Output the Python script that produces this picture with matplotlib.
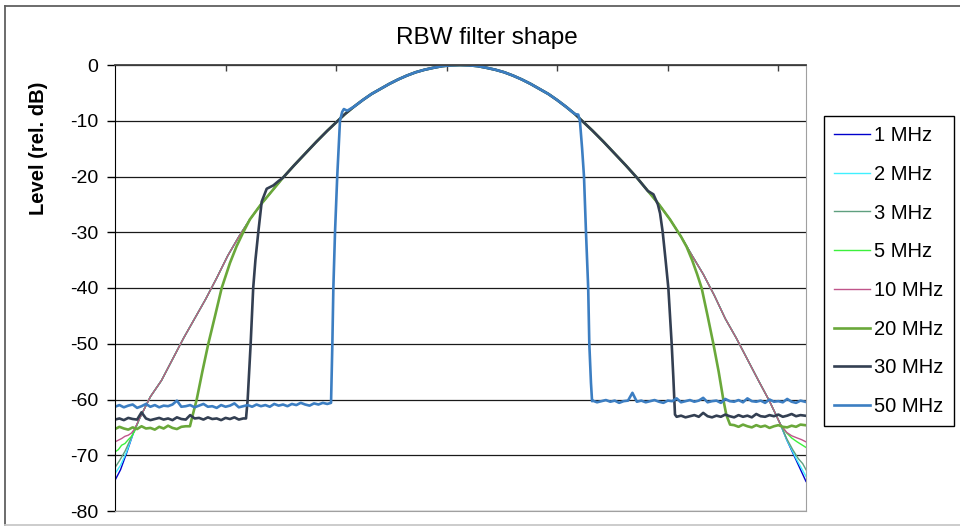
import numpy as np
import matplotlib
matplotlib.use("Agg")
import matplotlib.pyplot as plt
from matplotlib.lines import Line2D

plt.rcParams['font.family'] = ['Liberation Sans', 'DejaVu Sans']
plt.rcParams['axes.unicode_minus'] = False

# main lobe, common to every RBW setting (trace bin, level dB)
lobe_bin = [22, 32, 42, 52, 62, 72, 82, 92, 102, 112, 122, 132, 142, 152, 162, 172, 182,
            192, 200, 208, 216, 224, 232, 240, 248, 256, 264, 272, 280, 288, 296, 304, 312,
            320, 328, 336, 344, 352, 360, 368, 376, 384, 392, 400, 408, 416, 424, 432,
            442, 452, 462, 472, 482, 492, 502, 512, 522, 532, 542, 552, 562, 572, 582, 592, 602]
lobe_db = [-63.5, -59.5, -56.6, -52.8, -49.0, -45.5, -42.0, -38.2, -34.2, -30.8, -27.7,
           -25.0, -22.6, -20.2, -18.0, -15.9, -13.8, -11.8, -10.3, -8.8, -7.5, -6.3, -5.2,
           -4.3, -3.4, -2.6, -1.9, -1.3, -0.85, -0.5, -0.2, -0.05, 0.0,
           -0.05, -0.2, -0.5, -0.85, -1.3, -1.9, -2.6, -3.4, -4.3, -5.2, -6.3, -7.5, -8.8,
           -10.3, -11.8, -13.8, -15.9, -18.0, -20.2, -22.6, -25.0, -27.7, -30.8, -34.2,
           -37.5, -41.3, -45.5, -49.0, -52.8, -56.6, -60.3, -64.5]

# tails of the narrow filters
t1_left = ([0, 5, 10.5, 16.6], [-74.5, -72.6, -69.6, -66.0])
t1_right = ([607.5, 616.6, 625], [-67.2, -71.1, -74.7])
t2_left = ([0, 5, 10.5, 16.6], [-73.3, -71.8, -69.4, -66.0])
t2_right = ([607.5, 616.6, 625], [-67.2, -70.8, -73.8])
t3_left = ([0, 4, 9, 16.6], [-72.2, -71.0, -69.3, -66.0])
t3_right = ([607.5, 613, 618, 622, 625], [-67.0, -69.0, -70.6, -71.5, -72.6])
t5_left = ([0, 3, 6, 9, 12, 15, 18], [-69.4, -69.0, -68.2, -67.9, -67.2, -66.6, -65.6])
t5_right = ([607.5, 612, 617, 621, 625], [-66.0, -66.9, -67.6, -68.1, -68.6])
t10_left = ([0, 3, 6, 9, 12, 15, 18], [-67.6, -67.3, -67.0, -66.6, -66.4, -66.0, -65.2])
t10_right = ([607.5, 612, 617, 621, 625], [-65.9, -66.5, -66.9, -67.2, -67.6])

# wide filters: noise floor + skirts
f20_left = [-65.3, -64.9, -65.2, -65.4, -65.0, -65.3, -64.8, -65.2, -65.1, -65.4,
            -64.9, -65.2, -64.7, -65.1, -65.3, -64.9, -64.8]
s20_left = ([67.8, 70, 73.9, 79, 84.4, 90.5, 96.5, 104, 110, 116],
            [-64.8, -63.0, -60.0, -55.0, -50.0, -45.0, -40.0, -35.5, -32.5, -30.0])
s20_right = ([517, 522, 526.5, 530.6, 536, 541.2, 546, 550.2, 553, 556.3],
             [-32.6, -35.0, -37.5, -40.0, -45.0, -50.0, -55.0, -60.0, -62.8, -64.5])
f20_right = [-64.6, -64.9, -64.5, -64.8, -65.0, -64.6, -64.9, -64.7, -65.1, -64.8,
             -64.6, -64.9, -65.0, -64.7, -64.9, -64.5, -64.6]

f30_left = [-63.6, -63.4, -63.7, -63.3, -63.5, -63.6, -62.3, -63.4, -63.7, -63.5,
            -63.3, -63.6, -63.4, -63.7, -63.2, -63.5, -63.6, -62.8, -63.4, -63.3,
            -63.6, -63.2, -63.5, -63.4, -63.7, -63.3, -63.5, -63.2, -63.6, -63.4]
s30_left = ([118.5, 120, 122.7, 125, 127, 129.6, 132.7, 137.2, 143.2, 148],
            [-63.4, -60.0, -50.0, -40.0, -35.0, -30.0, -24.5, -22.2, -21.6, -20.8])
s30_right = ([487, 491, 493, 495.4, 498, 500.5, 503.5, 505, 506.5],
             [-23.2, -25.0, -26.6, -30.0, -35.0, -40.0, -50.0, -56.0, -62.7])
f30_right = [-63.1, -62.9, -63.2, -63.0, -62.8, -63.1, -62.4, -63.0, -63.2, -62.9,
             -63.1, -62.7, -63.0, -63.2, -62.8, -63.1, -62.9, -63.2, -62.6, -63.0,
             -63.1, -62.8, -63.0, -62.7, -63.1, -62.9, -62.6, -63.0, -62.8, -62.9]

f50_left = [-61.3, -61.0, -61.4, -61.1, -60.9, -61.5, -61.2, -60.8, -61.3, -61.0,
            -61.4, -61.1, -61.2, -60.9, -60.2, -61.3, -61.2, -61.0, -61.4, -61.1,
            -60.8, -61.3, -61.2, -61.5, -61.0, -61.3, -61.1, -60.7, -61.4, -61.2,
            -61.0, -61.3, -60.9, -61.2, -61.0, -61.3, -60.8, -61.1, -60.9, -61.2,
            -60.8, -61.0, -60.6, -60.9, -61.1, -60.7, -60.9, -60.6, -60.8]
s50_left = ([195.4, 196.6, 197.5, 199, 201, 203.5, 205.5, 207, 210],
            [-60.6, -50.0, -40.0, -30.0, -20.0, -10.0, -8.4, -7.9, -8.2])
s50_right = ([419, 420.5, 422.5, 424.2, 426, 428, 429, 430.5, 431.5],
             [-8.9, -10.0, -15.0, -20.0, -30.0, -40.0, -50.0, -57.0, -60.3])
f50_right = [-60.2, -60.5, -60.3, -60.1, -60.4, -60.2, -60.6, -60.3, -60.2, -58.8,
             -60.4, -60.2, -60.5, -60.3, -60.1, -60.4, -60.6, -60.2, -60.3, -59.8,
             -60.5, -60.3, -60.1, -60.4, -60.2, -59.7, -60.5, -60.3, -60.2, -60.6,
             -59.9, -60.3, -60.4, -60.1, -60.5, -59.8, -60.3, -60.4, -60.2, -60.6,
             -60.0, -60.4, -60.3, -60.5, -59.9, -60.4, -60.6, -60.2, -60.4]

labels = ['1 MHz', '2 MHz', '3 MHz', '5 MHz', '10 MHz', '20 MHz', '30 MHz', '50 MHz']
colors = ['#0000CC', '#40F0FF', '#5F9F7F', '#3CF03C', '#C0558A', '#6AA83A', '#333F52', '#3C7EC2']
widths = [1.0, 1.0, 1.0, 1.0, 1.0, 1.9, 1.9, 1.9]


def lobe(lo, hi):
    b = np.array(lobe_bin, float)
    d = np.array(lobe_db, float)
    m = (b >= lo) & (b <= hi)
    return b[m], d[m]


def floor(start, vals):
    return start + 4 * np.arange(len(vals)), vals


def trace(*parts):
    x = np.concatenate([np.asarray(p[0], float) for p in parts])
    y = np.concatenate([np.asarray(p[1], float) for p in parts])
    return x, y


traces = [
    trace(t1_left, lobe(0, 625), t1_right),
    trace(t2_left, lobe(0, 625), t2_right),
    trace(t3_left, lobe(0, 625), t3_right),
    trace(t5_left, lobe(0, 625), t5_right),
    trace(t10_left, lobe(0, 625), t10_right),
    trace(floor(0, f20_left), s20_left, lobe(122, 512), s20_right, floor(560, f20_right)),
    trace(floor(0, f30_left), s30_left, lobe(152, 482), s30_right, floor(508, f30_right)),
    trace(floor(0, f50_left), s50_left, lobe(216, 416), s50_right, floor(432, f50_right)),
]

fig = plt.figure(figsize=(9.6, 5.26), dpi=100)
ax = fig.add_axes([115 / 960, 1 - 511 / 526, 691 / 960, 446 / 526])

for (x, y), lab, c, w in zip(traces, labels, colors, widths):
    ax.plot(x, y, color=c, lw=w, label=lab, solid_joinstyle='round')

ax.set_xlim(0, 625)
ax.set_ylim(-80, 0)
ax.set_yticks(range(-80, 1, 10))
ax.xaxis.set_ticks_position('top')
ax.set_xticks([100, 200, 300, 400, 500, 600])
ax.tick_params(axis='x', direction='in', length=4, width=1, color='#404040',
               labeltop=False, labelbottom=False)
ax.tick_params(axis='y', direction='out', length=6, width=1, color='black',
               labelsize=14, pad=6)
ax.yaxis.grid(True, color='#1a1a1a', lw=0.9)
ax.spines['left'].set_color('black')
ax.spines['top'].set_color('#404040')
ax.spines['top'].set_linewidth(1.3)
ax.spines['right'].set_color('#a0a0a0')
ax.spines['bottom'].set_color('#a0a0a0')

fig.text(487 / 960, 1 - 44 / 526, 'RBW filter shape', fontsize=17.5, ha='center', va='baseline')
fig.text(39 / 960, 1 - 148 / 526, 'Level (rel. dB)', fontsize=14.5, fontweight='bold',
         rotation=90, ha='center', va='center')

leg = ax.legend(loc='upper left', bbox_to_anchor=(824 / 960, 1 - 116 / 526),
                bbox_transform=fig.transFigure, borderaxespad=0, fontsize=14.5,
                frameon=True, fancybox=False, edgecolor='black', framealpha=1,
                borderpad=0.5, labelspacing=0.98, handlelength=1.8, handletextpad=0.2)
leg.get_frame().set_linewidth(1.0)

# chart area border
fig.add_artist(Line2D([5 / 960, 5 / 960], [1 - 6 / 526, 1 - 525 / 526], color='#606060', lw=1.3))
fig.add_artist(Line2D([5 / 960, 1], [1 - 6 / 526, 1 - 6 / 526], color='#606060', lw=1.3))
fig.add_artist(Line2D([5 / 960, 1], [1 - 525 / 526, 1 - 525 / 526], color='#c8c8c8', lw=1.3))

fig.savefig('out.png', dpi=100)
